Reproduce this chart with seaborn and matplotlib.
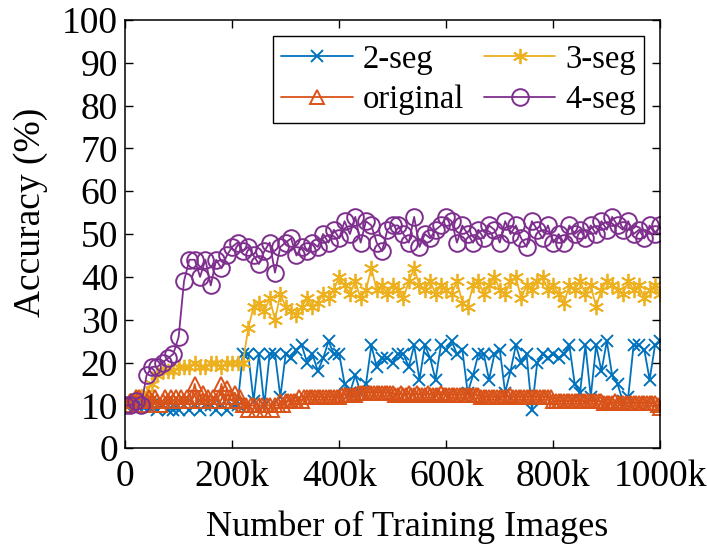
import numpy as np
import pandas as pd
import matplotlib
matplotlib.use("Agg")
import matplotlib.pyplot as plt
import seaborn as sns

# Training progress sampled every 10k images (0 .. 1000k)
steps_k = list(range(0, 1001, 10))
# original pipeline logged every 5k images
steps_orig_k = list(range(0, 1001, 5))

acc_2seg = [
    10, 10, 10, 10, 10, 10, 9, 10, 9, 9,
    9, 10, 9, 10, 9, 10, 10, 9, 10, 9,
    10, 10, 22, 22, 11, 22, 10, 22, 22, 12,
    22, 21, 23, 24, 20, 22, 18, 21, 25, 22,
    22, 15, 13, 17, 13, 15, 24, 19, 21, 21,
    20, 22, 22, 19, 24, 16, 24, 21, 16, 24,
    23, 25, 22, 23, 13, 17, 22, 22, 16, 22,
    23, 13, 18, 24, 20, 22, 9, 20, 22, 21,
    22, 21, 22, 24, 15, 13, 24, 12, 24, 18,
    25, 17, 15, 11, 12, 24, 24, 23, 16, 24,
    25,
]

acc_3seg = [
    10, 11, 12, 12, 13, 15, 17, 18, 18, 18,
    19, 19, 19, 20, 19, 19, 20, 20, 19, 20,
    20, 20, 20, 28, 33, 34, 32, 35, 30, 36,
    33, 32, 31, 33, 35, 33, 34, 36, 35, 37,
    40, 38, 36, 39, 35, 37, 42, 37, 38, 36,
    38, 37, 35, 39, 42, 38, 37, 39, 36, 38,
    37, 36, 39, 34, 33, 38, 39, 36, 38, 40,
    37, 36, 39, 40, 35, 38, 37, 39, 40, 37,
    38, 36, 34, 38, 37, 39, 36, 38, 33, 37,
    39, 38, 37, 36, 39, 37, 38, 35, 37, 38,
    36,
]

acc_4seg = [
    10, 10, 11, 10, 17, 19, 19, 20, 21, 22,
    26, 39, 44, 44, 40, 44, 38, 44, 42, 45,
    47, 48, 46, 47, 45, 43, 46, 48, 41, 47,
    48, 49, 45, 47, 46, 48, 47, 50, 48, 51,
    49, 53, 50, 54, 48, 53, 52, 48, 46, 51,
    52, 52, 50, 48, 54, 47, 50, 49, 51, 52,
    54, 53, 48, 52, 50, 48, 51, 49, 52, 51,
    48, 53, 50, 52, 49, 47, 53, 51, 49, 52,
    48, 50, 48, 52, 50, 51, 49, 52, 50, 53,
    51, 54, 52, 51, 53, 50, 51, 49, 52, 50,
    52,
]

acc_original = [
    10, 10, 11, 11, 12, 12, 11, 10, 11, 12,
    11, 12, 11, 10, 11, 12, 11, 12, 11, 12,
    11, 12, 11, 12, 11, 12, 15, 12, 11, 13,
    11, 12, 11, 12, 11, 12, 15, 11, 14, 12,
    11, 13, 11, 12, 10, 10, 9, 10, 10, 9,
    10, 10, 9, 10, 10, 9, 10, 10, 11, 10,
    11, 11, 11, 11, 11, 12, 11, 12, 12, 12,
    12, 12, 12, 12, 12, 12, 12, 12, 12, 12,
    12, 12.5, 12.5, 12.5, 12.5, 12.5, 12.5, 13, 13, 13,
    13, 13, 13, 13, 13, 13, 13, 13, 13, 13,
    13, 12.5, 12.5, 13, 12.5, 12.5, 13, 12.5, 12.5, 13,
    12.5, 12.5, 12.5, 13, 12.5, 12.5, 12.5, 12.5, 13, 12.5,
    12.5, 12.5, 12.5, 12.5, 12.5, 12.5, 12.5, 12.5, 12.5, 12.5,
    12.5, 12.5, 12.5, 12, 12, 12, 12, 12, 12, 12,
    12, 12, 12, 12, 12.5, 12, 12, 12, 12, 12,
    12, 12, 12, 12, 12, 12, 12, 12, 12, 12,
    11, 11, 11, 11, 11, 11, 11, 11, 11, 11,
    11, 11, 11, 11, 11, 11, 11, 11, 11, 10.5,
    10.5, 10.5, 10.5, 11, 10.5, 10.5, 10.5, 10.5, 10.5, 10.5,
    10.5, 10.5, 10.5, 10.5, 10.5, 10.5, 10.5, 10.5, 10.5, 10,
    9.5,
]

x_ticks_k = [0, 200, 400, 600, 800, 1000]
x_tick_labels = ["0", "200k", "400k", "600k", "800k", "1000k"]
y_ticks = list(range(0, 101, 10))

sns.set_style("ticks")
plt.rcParams["font.family"] = ["Liberation Serif", "DejaVu Serif"]
plt.rcParams["text.color"] = "black"
plt.rcParams["axes.labelcolor"] = "black"

fig = plt.figure(figsize=(7.07, 5.52), dpi=100)
ax = fig.add_axes([0.177, 0.188, 0.757, 0.776])

blue, orange, yellow, purple = "#0072BD", "#D95319", "#EDB120", "#7E2F8E"
lw = 1.3

sns.lineplot(x=steps_k, y=acc_2seg, ax=ax, color=blue, lw=lw,
             marker="x", markersize=8, markeredgewidth=1.4,
             markeredgecolor=blue, label="2-seg")
sns.lineplot(x=steps_k, y=acc_3seg, ax=ax, color=yellow, lw=lw,
             marker=(6, 2, 0), markersize=11, markeredgewidth=1.3,
             markeredgecolor=yellow, label="3-seg")
sns.lineplot(x=steps_orig_k, y=acc_original, ax=ax, color=orange, lw=lw,
             marker="^", markersize=10, markerfacecolor="none",
             markeredgewidth=1.4, markeredgecolor=orange, label="original")
sns.lineplot(x=steps_k, y=acc_4seg, ax=ax, color=purple, lw=lw,
             marker="o", markersize=12, markerfacecolor="none",
             markeredgewidth=1.4, markeredgecolor=purple, label="4-seg")

ax.set_xlim(0, 1000)
ax.set_ylim(0, 100)
ax.set_xticks(x_ticks_k)
ax.set_xticklabels(x_tick_labels)
ax.set_yticks(y_ticks)
ax.tick_params(direction="in", length=6, width=1, labelsize=27,
               top=True, right=True, colors="black", labelcolor="black")
ax.tick_params(axis="x", pad=8)
ax.tick_params(axis="y", pad=5)
for s in ax.spines.values():
    s.set_visible(True)
    s.set_linewidth(1.1)
    s.set_color("black")

ax.set_xlabel("Number of Training Images", fontsize=26, labelpad=12, x=0.527)
ax.set_ylabel("Accuracy (%)", fontsize=27, labelpad=10, y=0.55)

handles, labels = ax.get_legend_handles_labels()
order = [labels.index(n) for n in ["2-seg", "original", "3-seg", "4-seg"]]
leg = ax.legend([handles[i] for i in order], [labels[i] for i in order],
                ncol=2, loc="upper right", fontsize=23.5, frameon=True,
                fancybox=False, edgecolor="black", framealpha=1,
                handlelength=2.2, handletextpad=0.3, columnspacing=0.6,
                borderpad=0.25, labelspacing=0.3, borderaxespad=0.5)
leg.get_frame().set_linewidth(1.0)

fig.savefig("out.png", dpi=100)
